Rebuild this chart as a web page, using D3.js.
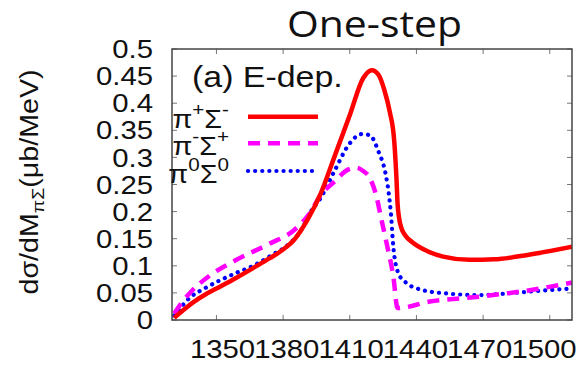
<!DOCTYPE html>
<html>
<head>
<meta charset="utf-8">
<script src="https://cdn.jsdelivr.net/npm/d3@7"></script>
<style>
  body { margin: 0; background: #fff; }
  text { font-family: "Liberation Sans", Arial, sans-serif; fill: #111; }
</style>
</head>
<body>
<div id="chart"></div>
<script>
// data: [M_piSigma (MeV), dsigma/dM (ub/MeV)]
var piPlusSigmaMinus = [
  [1331, 0.004], [1335, 0.018], [1340, 0.034], [1345, 0.047], [1350, 0.058],
  [1359, 0.078], [1367, 0.097], [1374, 0.114], [1380, 0.130], [1385, 0.148],
  [1391, 0.185], [1397, 0.234], [1403, 0.300], [1410, 0.378], [1416, 0.446],
  [1420, 0.461], [1423, 0.452], [1425.5, 0.425], [1428, 0.384], [1430, 0.330],
  [1431, 0.262], [1431.5, 0.215], [1432.2, 0.188], [1433.2, 0.170], [1435, 0.156],
  [1438, 0.144], [1445, 0.127], [1452, 0.117], [1464, 0.111], [1475, 0.112],
  [1490, 0.120], [1510, 0.135]
];
var piMinusSigmaPlus = [
  [1331, 0.012], [1334, 0.030], [1339, 0.054], [1347, 0.082], [1359, 0.111],
  [1374, 0.141], [1385, 0.166], [1392, 0.197], [1397, 0.231], [1403, 0.255],
  [1409, 0.277], [1413, 0.281], [1416, 0.275], [1419, 0.262], [1422, 0.228],
  [1424, 0.190], [1426.6, 0.141], [1429.6, 0.080], [1431.5, 0.022], [1446, 0.034],
  [1468, 0.043], [1491, 0.055], [1510, 0.069]
];
var piZeroSigmaZero = [
  [1331, 0.008], [1338, 0.041], [1345, 0.059], [1352, 0.074], [1359, 0.087],
  [1367, 0.101], [1375, 0.120], [1382, 0.138], [1388, 0.165], [1392, 0.197],
  [1397, 0.226], [1403, 0.274], [1410, 0.326], [1415.4, 0.343], [1419, 0.341],
  [1423, 0.310], [1426, 0.272], [1427.5, 0.235], [1428.5, 0.197], [1429.6, 0.135],
  [1431.9, 0.086], [1435.6, 0.068], [1443, 0.055], [1453.6, 0.049], [1468.6, 0.046],
  [1483.6, 0.050], [1498.6, 0.055], [1510, 0.058]
];
var xTicks = [1350, 1380, 1410, 1440, 1470, 1500];
var yTicks = [0, 0.05, 0.1, 0.15, 0.2, 0.25, 0.3, 0.35, 0.4, 0.45, 0.5];
var xDomain = [1330, 1510];
var yDomain = [0, 0.5];

var series = [
  { sup1: "+", sup2: "-", data: piPlusSigmaMinus, color: "#ff0000", dash: null },
  { sup1: "-", sup2: "+", data: piMinusSigmaPlus, color: "#ff00ff", dash: "12,8" },
  { sup1: "0", sup2: "0", data: piZeroSigmaZero, color: "#0000ff", dash: "0.1,7" }
];

var width = 586,
    height = 367,
    margin = { left: 172, right: 14, top: 49, bottom: 47 },
    stretch = 1.15,
    tickLen = 5;

var x = d3.scaleLinear().domain(xDomain).range([margin.left, width - margin.right]);
var y = d3.scaleLinear().domain(yDomain).range([height - margin.bottom, margin.top]);
// the printed x labels sit slightly tighter than the ticks
var xLabel = d3.scaleLinear().domain([1350, 1500]).range([222.5, 544]);

var svg = d3.select("#chart").append("svg")
    .attr("width", width)
    .attr("height", height);

function placeText(sel, px, py) {
  sel.attr("transform", "translate(" + px + "," + py + ") scale(" + stretch + ",1)");
  return sel;
}

// title
svg.append("text")
    .attr("x", 287).attr("y", 37)
    .attr("textLength", 175).attr("lengthAdjust", "spacingAndGlyphs")
    .style("font-family", "'Open Sans', 'Noto Sans', sans-serif")
    .style("font-size", "36px")
    .text("One-step");

// ticks on all four sides, pointing inwards
var tickG = svg.append("g").attr("stroke", "#777").attr("stroke-width", 1);
xTicks.forEach(function(v) {
  tickG.append("line").attr("x1", x(v)).attr("x2", x(v))
      .attr("y1", y(0)).attr("y2", y(0) - tickLen);
  tickG.append("line").attr("x1", x(v)).attr("x2", x(v))
      .attr("y1", y(0.5)).attr("y2", y(0.5) + tickLen);
});
yTicks.forEach(function(v) {
  tickG.append("line").attr("x1", x(1330)).attr("x2", x(1330) + tickLen)
      .attr("y1", y(v)).attr("y2", y(v));
  tickG.append("line").attr("x1", x(1510)).attr("x2", x(1510) - tickLen)
      .attr("y1", y(v)).attr("y2", y(v));
});

// tick labels
xTicks.forEach(function(v) {
  placeText(svg.append("text"), xLabel(v), 358)
      .attr("text-anchor", "middle")
      .style("font-size", "25.5px")
      .text(v);
});
yTicks.forEach(function(v) {
  placeText(svg.append("text"), 153, y(v))
      .attr("text-anchor", "end")
      .attr("dy", "0.36em")
      .style("font-size", "25.5px")
      .text(v);
});

// y axis title
var yTitle = svg.append("text")
    .attr("transform", "translate(38," + 182 + ") rotate(-90)")
    .attr("text-anchor", "middle")
    .attr("textLength", 225).attr("lengthAdjust", "spacingAndGlyphs")
    .style("font-size", "25px");
yTitle.append("tspan").text("dσ/dM");
yTitle.append("tspan").attr("dy", 6).style("font-size", "17px").text("πΣ");
yTitle.append("tspan").attr("dy", -6).text("(μb/MeV)");

// curves
svg.append("clipPath").attr("id", "plotClip")
  .append("rect")
    .attr("x", x(1330)).attr("y", y(0.5))
    .attr("width", x(1510) - x(1330)).attr("height", y(0) - y(0.5));

var line = d3.line()
    .x(function(d) { return x(d[0]); })
    .y(function(d) { return y(d[1]); })
    .curve(d3.curveMonotoneX);

var curveG = svg.append("g").attr("clip-path", "url(#plotClip)");
series.slice().reverse().forEach(function(s) {
  curveG.append("path")
      .attr("d", line(s.data))
      .attr("fill", "none")
      .attr("stroke", s.color)
      .attr("stroke-width", s.dash === "0.1,7" ? 4.2 : 4.5)
      .attr("stroke-linecap", s.dash === "0.1,7" ? "round" : "butt")
      .attr("stroke-dasharray", s.dash);
});

// frame
svg.append("rect")
    .attr("x", x(1330)).attr("y", y(0.5))
    .attr("width", x(1510) - x(1330)).attr("height", y(0) - y(0.5))
    .attr("fill", "none")
    .attr("stroke", "#444")
    .attr("stroke-width", 1.5);

// legend
placeText(svg.append("text"), 192, 87)
    .style("font-size", "29.5px")
    .text("(a) E-dep.");

var legendY = [116.7, 143.3, 171];
series.forEach(function(s, i) {
  var t = placeText(svg.append("text"), 229, legendY[i] + 11.5)
      .attr("text-anchor", "end")
      .style("font-size", "25px");
  t.append("tspan").text("π");
  t.append("tspan").attr("dy", -12).style("font-size", "18px").text(s.sup1);
  t.append("tspan").attr("dy", 12).text("Σ");
  t.append("tspan").attr("dy", -12).style("font-size", "18px").text(s.sup2);

  svg.append("line")
      .attr("x1", 248).attr("x2", 318)
      .attr("y1", legendY[i]).attr("y2", legendY[i])
      .attr("stroke", s.color)
      .attr("stroke-width", s.dash === "0.1,7" ? 4.2 : 4.5)
      .attr("stroke-linecap", s.dash === "0.1,7" ? "round" : "butt")
      .attr("stroke-dasharray", s.dash);
});
</script>
</body>
</html>
